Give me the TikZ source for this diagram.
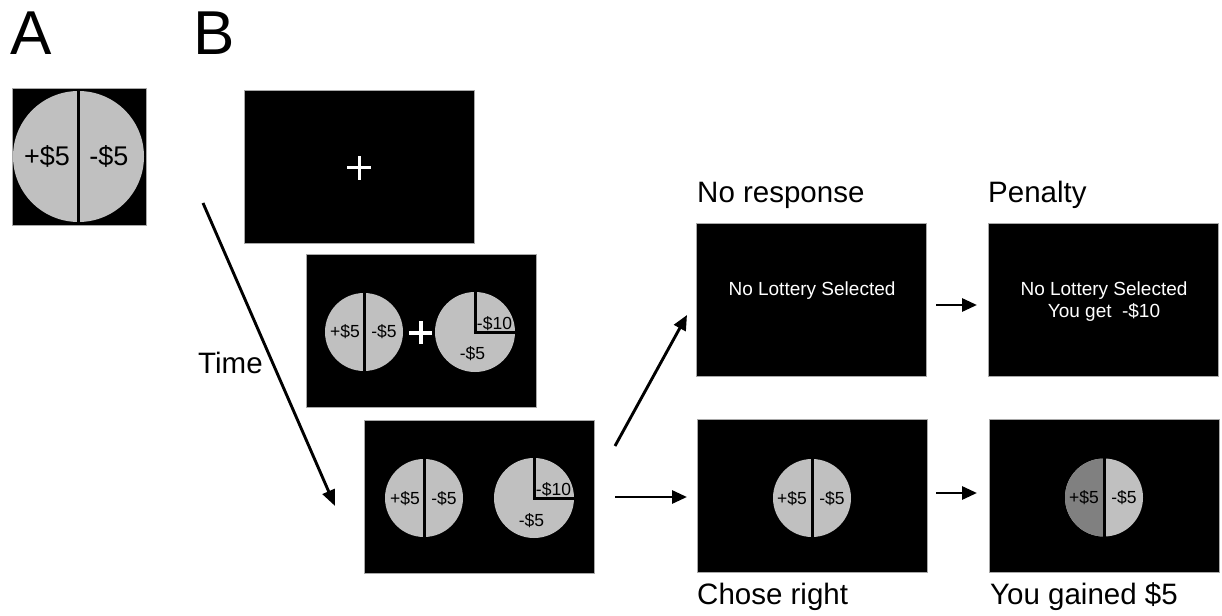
\documentclass[tikz,border=0pt]{standalone}
\usepackage{fontspec}
\setmainfont{Liberation Sans}
\usetikzlibrary{arrows.meta}
\definecolor{lg}{HTML}{C0C0C0}
\definecolor{dg}{HTML}{808080}
\definecolor{bd}{HTML}{A8A8A8}
\begin{document}
\begin{tikzpicture}[x=1bp,y=-1bp,
  scr/.style={draw=bd, line width=0.8bp, fill=black, minimum width=230bp, minimum height=153bp, inner sep=0pt},
  disc/.style={circle, fill=lg, minimum size=78bp, inner sep=0pt},
  cut/.style={line width=3bp, draw=black},
  lab/.style={font=\fontsize{29.5bp}{34bp}\selectfont, inner sep=0pt, anchor=base west},
  big/.style={font=\fontsize{62bp}{70bp}\selectfont, inner sep=0pt, anchor=base west},
  cs/.style={font=\fontsize{17.5bp}{20bp}\selectfont, inner sep=0pt, anchor=base},
  csA/.style={font=\fontsize{27bp}{30bp}\selectfont, inner sep=0pt, anchor=base},
  wt/.style={font=\fontsize{19bp}{23bp}\selectfont, text=white, inner sep=0pt, anchor=base},
  arr/.style={line width=2.9bp, -{Triangle[length=15bp,width=13bp]}},
  tarr/.style={line width=2.9bp, -{Triangle[length=16bp,width=13bp]}},
]
\useasboundingbox (0,0) rectangle (1222,616);

% panel labels
\node[big] (lA) at (10,55) {A};
\node[big] (lB) at (193,55) {B};

% panel A
\node[draw=bd, line width=0.8bp, fill=black, minimum width=134bp, minimum height=137bp, inner sep=0pt] (pA) at (79,156.5) {};
\node[disc, minimum size=131bp] (dA) at (78.5,156.5) {};
\draw[cut] (dA.north) -- (dA.south);
\node[csA] (tA1) at (47,166) {+\$5};
\node[csA] (tA2) at (109,166) {-\$5};

% B: screen 1 (fixation)
\node[scr] (b1) at (359.5,166.5) {};
\coordinate (f1) at (359,168);
\draw[white, line width=3bp] ([xshift=-12bp]f1) -- ([xshift=12bp]f1);
\draw[white, line width=3bp] ([yshift=-12bp]f1) -- ([yshift=12bp]f1);

% screen 2
\node[scr] (b2) at (421,330.5) {};
\node[disc] (d21) at (364,332) {};
\draw[cut] (d21.north) -- (d21.south);
\node[cs] (t211) at (345,338) {+\$5};
\node[cs] (t212) at (384,338) {-\$5};
\node[disc, minimum size=80bp] (d22) at (475,332) {};
\draw[cut] (d22.north) -- (d22.center) -- (d22.east);
\node[cs] (t221) at (494.5,330) {-\$10};
\node[cs] (t222) at (472.5,360) {-\$5};
\coordinate (f2) at (420.5,332.5);
\draw[white, line width=4bp] ([xshift=-11.5bp]f2) -- ([xshift=11.5bp]f2);
\draw[white, line width=4bp] ([yshift=-11.5bp]f2) -- ([yshift=11.5bp]f2);

% screen 3
\node[scr] (b3) at (479,496.5) {};
\node[disc] (d31) at (424,498) {};
\draw[cut] (d31.north) -- (d31.south);
\node[cs] (t311) at (405,504) {+\$5};
\node[cs] (t312) at (444,504) {-\$5};
\node[disc, minimum size=80bp] (d32) at (534,498) {};
\draw[cut] (d32.north) -- (d32.center) -- (d32.east);
\node[cs] (t321) at (553.5,495.5) {-\$10};
\node[cs] (t322) at (531.5,526) {-\$5};

% time arrow
\coordinate (ts) at (203,203);
\coordinate (te) at (335,506);
\draw[tarr] (ts) -- (te);
\node[lab] (time) at (198,373) {Time};

% no response / penalty
\node[lab] (lnr) at (697,203) {No response};
\node[scr] (nr) at (811.5,300) {};
\node[wt] (nrt) at (812,296) {No Lottery Selected};
\node[lab] (lpen) at (988,203) {Penalty};
\node[scr] (pen) at (1103,300) {};
\node[wt] (pent1) at (1104,296) {No Lottery Selected};
\node[wt] (pent2) at (1104,318) {You get\hspace{0.55em}-\$10};

% chose right / gained
\node[scr] (ch) at (812,496) {};
\node[disc] (dch) at (812,498) {};
\draw[cut] (dch.north) -- (dch.south);
\node[cs] (tch1) at (792,504) {+\$5};
\node[cs] (tch2) at (832,504) {-\$5};
\node[lab] (lch) at (697,604) {Chose right};

\node[scr] (ga) at (1104,496) {};
\node[disc, path picture={\fill[dg] (path picture bounding box.north west) rectangle (path picture bounding box.south);}] (dga) at (1104,497.5) {};
\draw[cut] (dga.north) -- (dga.south);
\node[cs] (tga1) at (1084,503.5) {+\$5};
\node[cs] (tga2) at (1124,503.5) {-\$5};
\node[lab] (lga) at (990,604) {You gained \$5};

% connectors
\coordinate (a1s) at (615,446);
\coordinate (a1e) at (687,315);
\draw[arr] (a1s) -- (a1e);
\coordinate (a2s) at (615,497);
\coordinate (a2e) at (687,497);
\draw[arr] (a2s) -- (a2e);
\coordinate (a3s) at (936,305);
\coordinate (a3e) at (977,305);
\draw[arr] (a3s) -- (a3e);
\coordinate (a4s) at (936,493);
\coordinate (a4e) at (977,493);
\draw[arr] (a4s) -- (a4e);
\end{tikzpicture}
\end{document}
